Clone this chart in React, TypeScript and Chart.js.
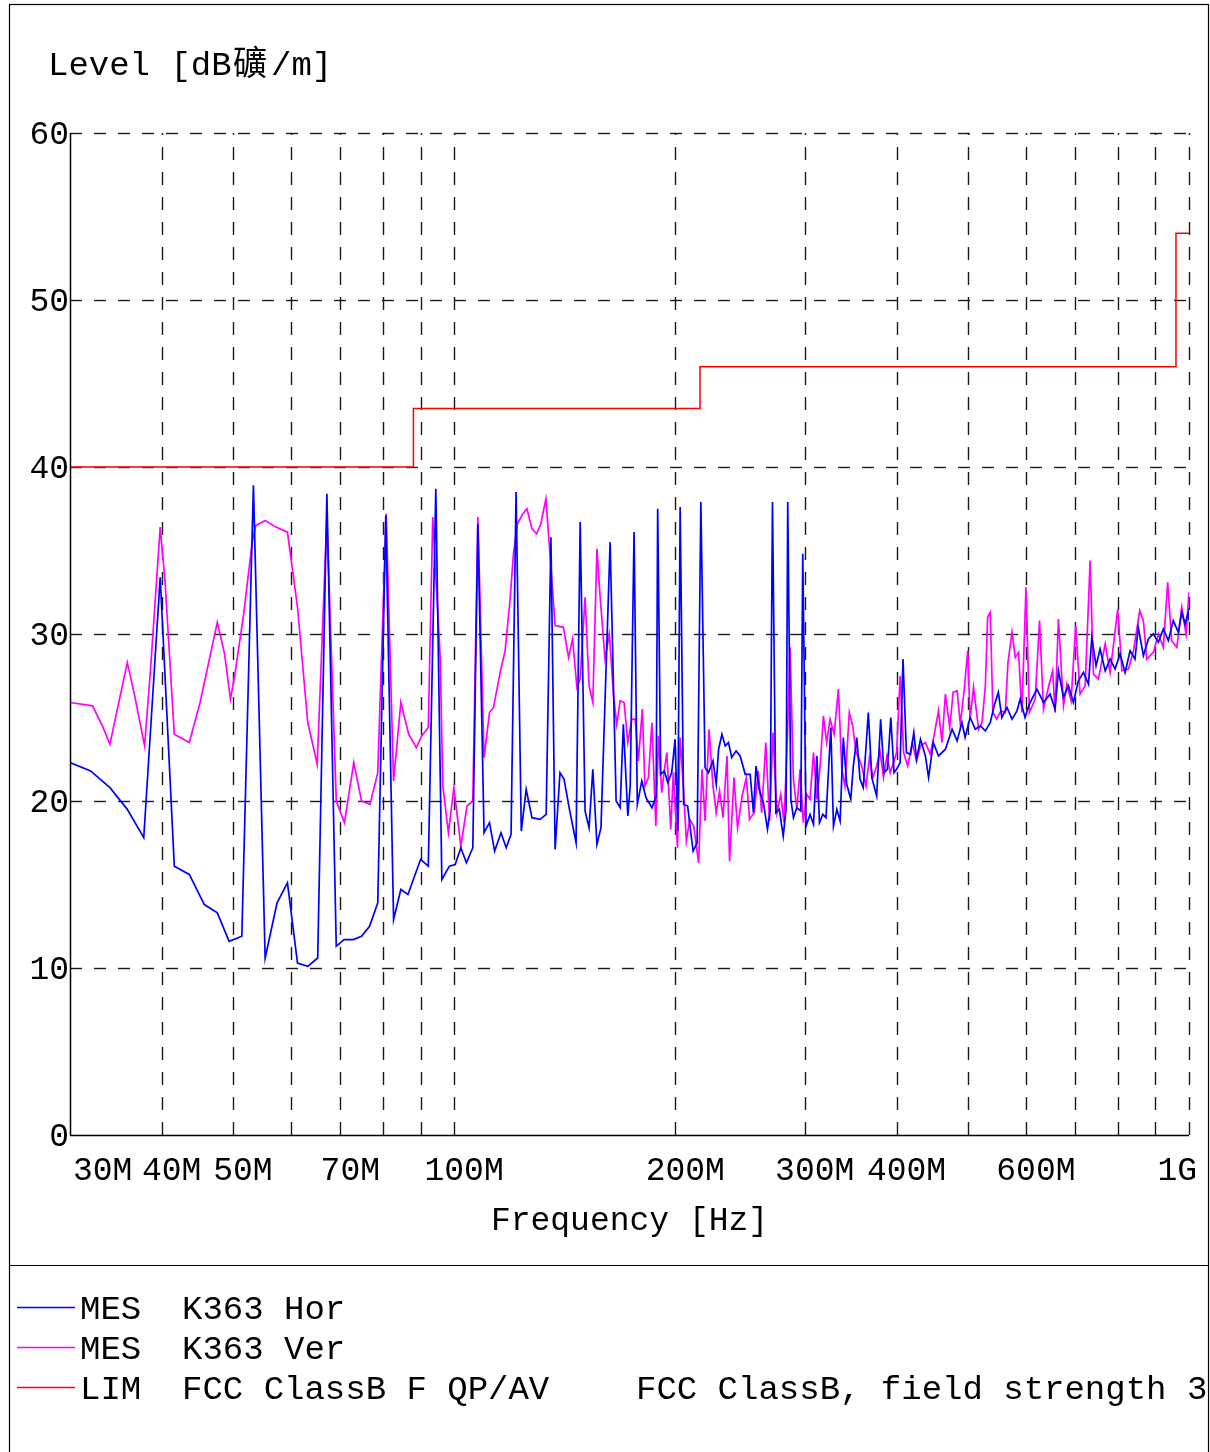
import React, { useEffect, useRef } from "react";
import { Chart, registerables } from "chart.js";

Chart.register(...registerables);

// ---------- data (frequency in MHz, level in dBuV/m) ----------
const horFreq = [
  30, 32.0, 34.0, 35.9, 37.8, 39.8, 41.6, 43.6, 45.7, 47.6, 49.4, 51.4, 53.3, 55.3, 57.4, 59.3,
  61.2, 63.2, 65.2, 67.1, 69.1, 70.8, 72.9, 74.8, 76.7, 78.7, 80.7, 82.7, 84.6, 86.5, 90.0, 92.2,
  94.4, 96.2, 98.5, 100.3, 102.1, 103.9, 106.0, 107.7, 109.8, 111.7, 113.5, 115.8, 117.7, 119.5,
  121.4, 123.4, 125.3, 127.6, 130.9, 133.4, 135.4, 137.2, 139.3, 141.1, 143.5, 146.5, 148.4,
  150.7, 152.6, 154.4, 156.4, 158.4, 163.0, 166.1, 168.2, 169.9, 172.3, 173.6, 175.7, 177.5,
  180.0, 182.4, 185.8, 188.3, 189.2, 191.0, 193.2, 195.3, 197.7, 199.8, 201.5, 203.0, 205.2,
  207.8, 211.4, 214.1, 216.6, 219.5, 221.8, 225.0, 227.3, 229.0, 231.4, 233.8, 236.2, 238.6,
  241.9, 245.0, 248.9, 252.8, 255.4, 257.5, 260.0, 263.5, 266.9, 269.2, 271.1, 274.0, 277.0,
  280.4, 282.9, 284.4, 287.2, 289.5, 292.6, 296.3, 298.1, 301.2, 305.0, 308.3, 311.6, 314.1,
  317.4, 320.6, 325.5, 328.2, 331.7, 335.1, 338.5, 342.1, 346.5, 349.3, 353.1, 356.7, 360.3,
  366.1, 370.1, 375.8, 380.5, 384.5, 388.6, 392.8, 396.8, 400.0, 404.5, 408.1, 412.5, 417.8,
  422.2, 425.8, 431.1, 437.8, 442.2, 448.8, 456.1, 466.1, 476.0, 483.5, 490.9, 495.8, 503.6,
  511.8, 520.1, 528.3, 536.5, 543.1, 550.2, 556.3, 565.3, 574.3, 583.3, 589.2, 598.2, 606.4,
  620.9, 633.8, 646.9, 657.2, 664.2, 674.8, 685.4, 696.0, 707.0, 718.4, 729.8, 737.5, 747.3,
  756.8, 769.0, 781.1, 793.2, 805.7, 818.6, 831.4, 844.3, 853.0, 866.8, 880.5, 894.2, 908.4,
  922.8, 937.3, 951.8, 967.2, 977.6, 987.7, 997.9, 1000,
];
const horLevel = [
  22.3, 21.8, 20.8, 19.5, 17.8, 33.4, 16.1, 15.6, 13.8, 13.3, 11.6, 11.9, 38.9, 10.6, 13.9, 15.1,
  10.3, 10.1, 10.6, 38.4, 11.3, 11.7, 11.7, 11.9, 12.5, 13.9, 37.1, 12.9, 14.7, 14.4, 16.5, 16.1,
  38.7, 15.3, 16.1, 16.2, 17.2, 16.3, 17.2, 36.6, 18.1, 18.7, 17.0, 18.1, 17.2, 18.0,
  38.5, 18.2, 20.7, 19.0, 18.9, 19.2, 35.8, 17.1, 21.7, 21.3, 19.5, 17.5, 36.7,
  19.4, 18.4, 21.9, 17.4, 18.4, 35.5, 20.0, 19.6, 24.6, 19.1, 20.9, 36.1, 19.8,
  21.2, 20.2, 19.6, 20.3, 37.5, 21.6, 21.8, 21.1, 21.7, 23.7, 18.2, 37.6, 19.8,
  19.7, 17.0, 17.5, 37.9, 22.0, 21.7, 22.4, 21.0, 23.1, 24.0, 23.3, 23.5, 22.6,
  23.0, 22.7, 21.6, 21.6, 19.3, 22.1, 20.7, 19.9, 18.3, 19.5, 37.9, 19.3, 19.5,
  17.9, 19.5, 37.9, 20.1, 19.0, 19.6, 19.4, 34.8, 18.5, 19.2, 18.6, 22.7, 18.7,
  19.2, 19.0, 24.4, 18.5, 19.5, 18.8, 23.8, 21.0, 20.1, 22.1, 23.8, 21.3, 20.8,
  25.3, 21.4, 20.3, 24.9, 21.7, 21.9, 25.0, 21.7, 21.9, 22.3, 28.5, 22.9, 22.8,
  24.1, 22.5, 23.7, 22.7, 21.4, 23.5, 22.7, 23.1, 24.3, 23.6, 24.7, 23.8, 25.0,
  24.3, 24.5, 24.2, 24.7, 25.7, 26.5, 25.0, 25.6, 24.9, 25.4, 26.1, 25.0, 25.8,
  26.7, 25.9, 26.4, 25.5, 27.8, 26.2, 26.9, 25.9, 27.2, 27.7, 27.0, 29.8, 28.1,
  29.1, 27.8, 28.5, 27.9, 28.8, 27.7, 29.0, 28.5, 30.4, 28.7, 29.7, 30.0, 29.5,
  30.3, 29.6, 30.8, 30.1, 31.3, 30.6, 31.3, 30.8,
];

const verFreq = [
  30, 32.2, 33.2, 34.0, 35.9, 36.7, 37.9, 38.6, 39.8, 40.4, 41.6, 43.6, 45.1, 47.6, 48.7, 49.6,
  50.3, 51.7, 53.1, 53.7, 55.3, 57.2, 59.3, 61.2, 63.2, 65.1, 67.1, 69.1, 70.9, 73.0, 74.8, 76.8,
  78.7, 80.8, 82.7, 84.6, 86.7, 88.8, 90.3, 92.2, 93.5, 95.7, 96.5, 98.2, 99.9, 102.1, 104.1,
  106.0, 107.7, 109.8, 111.7, 113.1, 115.5, 117.3, 119.1, 120.4, 121.9, 124.0, 125.6, 127.6,
  129.5, 131.2, 133.3, 135.4, 137.2, 140.8, 143.1, 144.9, 146.9, 148.4, 150.7, 152.6, 154.4,
  156.4, 158.0, 160.4, 162.6, 164.7, 166.4, 168.2, 170.3, 172.3, 174.5, 176.3, 178.1, 180.3,
  181.8, 183.8, 185.8, 188.1, 189.7, 191.6, 193.0, 194.7, 197.1, 198.7, 201.3, 203.0, 205.2,
  207.0, 209.2, 211.8, 215.1, 217.4, 219.5, 222.2, 225.0, 227.3, 229.7, 232.2, 235.1, 237.0,
  240.3, 243.0, 246.5, 249.8, 252.3, 256.0, 259.3, 262.1, 265.5, 268.6, 271.5, 274.9, 278.2,
  281.1, 284.1, 286.5, 289.5, 292.6, 295.6, 298.6, 301.8, 305.0, 308.3, 311.6, 314.8, 318.0,
  321.3, 324.7, 328.9, 333.3, 336.9, 340.2, 344.9, 348.6, 352.3, 355.9, 358.6, 363.5, 367.3,
  371.3, 375.9, 379.7, 383.9, 388.1, 392.1, 396.2, 400.0, 404.5, 408.9, 414.2, 420.1, 425.8,
  431.1, 437.8, 444.5, 449.8, 456.1, 461.2, 466.1, 472.5, 477.5, 483.5, 488.4, 494.8, 499.9,
  503.6, 509.0, 517.2, 522.8, 528.3, 532.1, 536.5, 540.9, 547.5, 554.5, 562.3, 567.1, 574.3,
  580.2, 586.2, 592.3, 600.0, 606.4, 617.6, 626.0, 633.8, 643.6, 652.3, 657.2, 664.2, 674.8,
  682.0, 691.1, 701.1, 710.9, 722.3, 733.6, 741.1, 752.9, 769.0, 781.1, 800.0, 810.3, 827.4,
  840.3, 856.9, 866.8, 876.1, 894.2, 908.4, 922.8, 935.4, 946.9, 962.5, 977.6, 990.8, 1000,
];
const verLevel = [
  25.9, 25.7, 24.5, 23.4, 28.3, 26.4, 23.3, 27.8, 36.4, 33.2, 24.0, 23.5, 25.9, 30.7, 28.8, 26.1,
  27.6, 31.2, 35.5, 36.5, 36.8, 36.4, 36.1, 31.6, 24.7, 22.2, 37.0, 20.0, 18.7, 22.3, 20.0, 19.8,
  21.7, 37.2, 21.2, 25.9, 24.0, 23.2, 23.9, 24.4, 37.0, 28.6, 20.9, 18.1, 20.8, 17.3, 19.7,
  20.0, 37.0, 22.6, 25.3, 25.6, 27.7, 29.0, 32.0, 34.8, 36.6, 37.2, 37.5, 36.3,
  36.0, 36.6, 38.1, 34.0, 30.5, 30.4, 28.6, 29.7, 26.8, 27.3, 32.2, 26.9, 25.9,
  35.1, 32.2, 28.5, 30.0, 26.4, 24.6, 26.0, 25.9, 23.5, 24.9, 24.9, 22.4, 25.5,
  20.9, 21.4, 24.7, 18.5, 23.9, 20.5, 21.7, 22.9, 18.3, 21.7, 17.2, 23.8, 20.6,
  17.6, 18.9, 18.5, 16.3, 21.9, 18.8, 24.3, 20.9, 19.3, 20.6, 19.0, 22.7, 16.4,
  21.4, 18.4, 20.3, 21.4, 18.9, 19.3, 21.8, 19.3, 23.5, 18.8, 24.1, 19.3, 20.4,
  18.7, 23.9, 29.2, 21.3, 19.5, 21.9, 18.7, 20.4, 20.1, 22.9, 20.1, 22.1, 25.1,
  23.5, 24.9, 24.0, 26.7, 21.9, 20.9, 25.3, 24.5, 22.9, 22.5, 22.1, 20.9, 22.6,
  21.4, 22.1, 23.0, 21.4, 22.7, 21.7, 22.3, 22.9, 27.5, 22.9, 22.1, 23.5, 22.4,
  23.3, 23.5, 22.8, 23.9, 25.4, 23.5, 26.4, 24.4, 26.5, 26.6, 24.6, 26.8, 29.0,
  24.9, 26.8, 24.3, 24.7, 26.9, 31.0, 31.3, 25.3, 24.9, 25.4, 25.3, 28.3, 30.1,
  28.6, 28.9, 25.3, 32.8, 25.3, 26.1, 30.8, 25.5, 26.8, 27.8, 25.3, 30.9, 25.7,
  27.0, 26.0, 30.5, 26.4, 26.9, 34.4, 27.6, 27.3, 29.4, 27.7, 31.5, 27.8, 27.9,
  29.0, 31.4, 30.8, 28.5, 28.9, 30.0, 29.2, 33.1, 29.6, 29.2, 31.6, 30.0, 32.5,
];

const limFreq = [30, 88, 88, 216, 216, 960, 960, 1000];
const limLevel = [40, 40, 43.5, 43.5, 46, 46, 54, 54];

const gridFreqs = [40, 50, 60, 70, 80, 90, 100, 200, 300, 400, 500, 600, 700, 800, 900, 1000];
const tickFreqs = [30, 40, 50, 70, 100, 200, 300, 400, 600, 1000];
const tickNums = ["30", "40", "50", "70", "100", "200", "300", "400", "600", "1"];
const tickUnits = ["M", "M", "M", "M", "M", "M", "M", "M", "M", "G"];
const levelTicks = [0, 10, 20, 30, 40, 50, 60];

const titleParts = ["Level [dB", "礦", "/m]"];
const xTitle = "Frequency [Hz]";
const seriesColors = ["#0000ff", "#ff00ff", "#ff0000"];
const legendTexts = ["MES  K363 Hor", "MES  K363 Ver", "LIM  FCC ClassB F QP/AV"];
const legendExtra = ["", "", "FCC ClassB, field strength 3m"];

const MONO = '"Liberation Mono", "DejaVu Sans Mono", monospace';
const CJK = '"Noto Sans CJK SC", "Noto Sans CJK JP", sans-serif';

const decorPlugin = {
  id: "decor",
  beforeDraw(chart: any) {
    const ctx = chart.ctx;
    ctx.save();
    ctx.fillStyle = "#ffffff";
    ctx.fillRect(0, 0, chart.width, chart.height);
    ctx.restore();
  },
  beforeDatasetsDraw(chart: any) {
    const { ctx, chartArea: a, scales } = chart;
    const xs = scales.x;
    const ys = scales.y;
    ctx.save();
    ctx.strokeStyle = "#1a1a1a";
    ctx.lineWidth = 1.4;
    ctx.setLineDash([13, 12]);
    gridFreqs.forEach((f) => {
      const px = Math.round(xs.getPixelForValue(f)) + 0.5;
      ctx.beginPath();
      ctx.moveTo(px, a.bottom);
      ctx.lineTo(px, a.top);
      ctx.stroke();
    });
    ctx.setLineDash([12, 12]);
    levelTicks.forEach((v, i) => {
      if (i === 0) return;
      const py = Math.round(ys.getPixelForValue(v)) + 0.5;
      ctx.beginPath();
      ctx.moveTo(a.left, py);
      ctx.lineTo(a.right, py);
      ctx.stroke();
    });
    ctx.restore();
  },
  afterDraw(chart: any) {
    const { ctx, chartArea: a, scales } = chart;
    const xs = scales.x;
    const ys = scales.y;
    ctx.save();
    ctx.setLineDash([]);
    ctx.strokeStyle = "#000";
    ctx.lineWidth = 1.5;
    const lx = Math.round(a.left) + 0.5;
    const by = Math.round(a.bottom) + 0.5;
    ctx.beginPath();
    ctx.moveTo(lx, a.top);
    ctx.lineTo(lx, by);
    ctx.lineTo(a.right, by);
    ctx.stroke();

    // outer frame and separator
    ctx.lineWidth = 1.2;
    ctx.strokeRect(9.5, 4.5, 1199, 1500);
    ctx.beginPath();
    ctx.moveTo(9, 1265.5);
    ctx.lineTo(1209, 1265.5);
    ctx.stroke();

    ctx.fillStyle = "#000";
    ctx.font = `33px ${MONO}`;
    ctx.textBaseline = "alphabetic";
    ctx.textAlign = "right";
    levelTicks.forEach((v) => {
      ctx.fillText(String(v), 69, ys.getPixelForValue(v) + 11);
    });

    ctx.textAlign = "left";
    tickFreqs.forEach((f, i) => {
      const num = tickNums[i];
      const full = num + tickUnits[i];
      const px = xs.getPixelForValue(f);
      let x0 = px - ctx.measureText(num).width / 2;
      const w = ctx.measureText(full).width;
      if (x0 < a.left + 3) x0 = a.left + 3;
      if (x0 + w > a.right + 8) x0 = a.right + 8 - w;
      ctx.fillText(full, x0, 1180);
    });

    ctx.textAlign = "center";
    ctx.fillText(xTitle, (a.left + a.right) / 2, 1230);

    ctx.textAlign = "left";
    ctx.font = `34px ${MONO}`;
    ctx.fillText(titleParts[0], 48, 75);
    ctx.font = `34px ${CJK}`;
    ctx.fillText(titleParts[1], 233, 75);
    ctx.font = `34px ${MONO}`;
    ctx.fillText(titleParts[2], 271, 75);

    // legend
    ctx.save();
    ctx.beginPath();
    ctx.rect(10, 1266, 1198, 200);
    ctx.clip();
    legendTexts.forEach((t, i) => {
      const cy = 1307 + i * 40;
      ctx.strokeStyle = seriesColors[i];
      ctx.lineWidth = 1.5;
      ctx.beginPath();
      ctx.moveTo(17, cy + 0.5);
      ctx.lineTo(75, cy + 0.5);
      ctx.stroke();
      ctx.fillStyle = "#000";
      ctx.font = `34px ${MONO}`;
      ctx.fillText(t, 80, cy + 12);
      if (legendExtra[i]) ctx.fillText(legendExtra[i], 636, cy + 12);
    });
    ctx.restore();

    ctx.restore();
  },
};

const toPoints = (fs: number[], ls: number[]) => fs.map((f, i) => ({ x: f, y: ls[i] }));

export default function App() {
  const canvasRef = useRef<HTMLCanvasElement | null>(null);

  useEffect(() => {
    if (!canvasRef.current) return;
    const chart = new Chart(canvasRef.current, {
      type: "line",
      data: {
        datasets: [
          {
            label: legendTexts[2],
            data: toPoints(limFreq, limLevel),
            borderColor: seriesColors[2],
            borderWidth: 1.5,
            pointRadius: 0,
            tension: 0,
          },
          {
            label: legendTexts[0],
            data: toPoints(horFreq, horLevel),
            borderColor: seriesColors[0],
            borderWidth: 1.7,
            pointRadius: 0,
            tension: 0,
          },
          {
            label: legendTexts[1],
            data: toPoints(verFreq, verLevel),
            borderColor: seriesColors[1],
            borderWidth: 1.7,
            pointRadius: 0,
            tension: 0,
          },
        ],
      },
      options: {
        animation: false,
        responsive: true,
        maintainAspectRatio: false,
        layout: { padding: { left: 70, top: 133, right: 21, bottom: 317 } },
        plugins: {
          legend: { display: false },
          tooltip: { enabled: false },
        },
        scales: {
          x: { type: "logarithmic", min: 30, max: 1000, display: false },
          y: { type: "linear", min: 0, max: 60, display: false },
        },
      },
      plugins: [decorPlugin],
    });
    return () => chart.destroy();
  }, []);

  return (
    <div style={{ position: "absolute", left: 0, top: 0, width: 1210, height: 1452, background: "#fff" }}>
      <canvas ref={canvasRef} />
    </div>
  );
}
